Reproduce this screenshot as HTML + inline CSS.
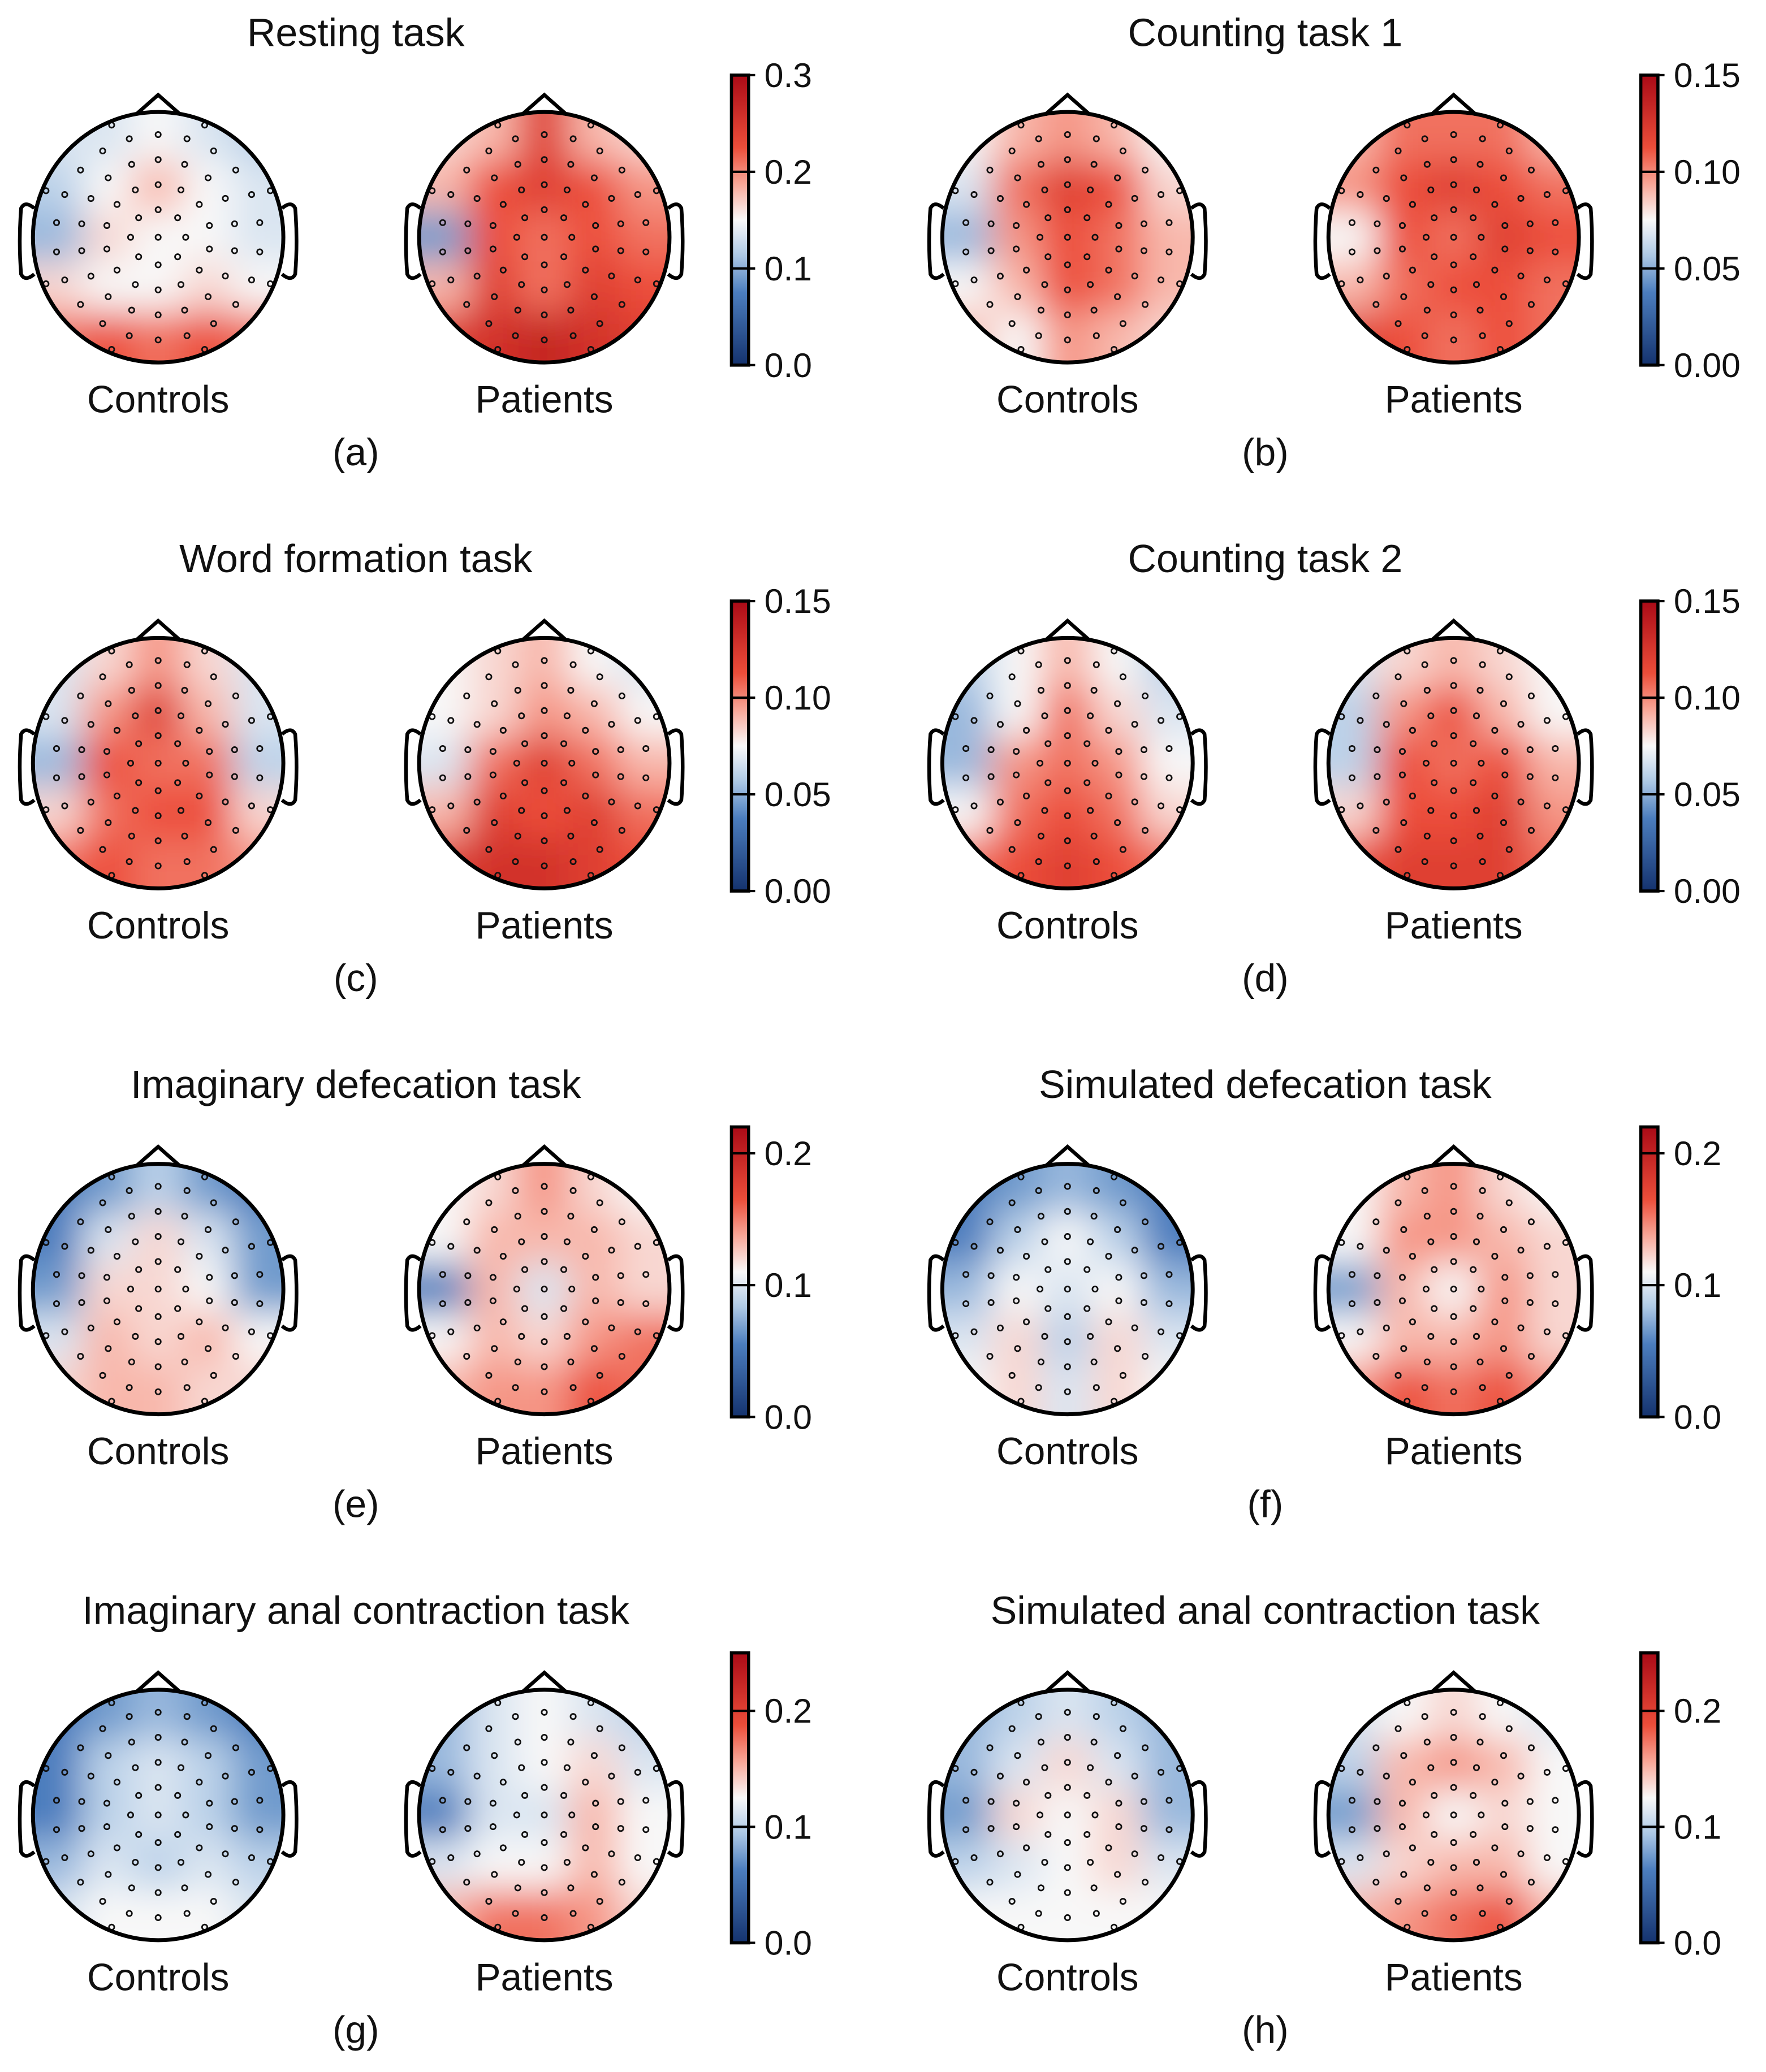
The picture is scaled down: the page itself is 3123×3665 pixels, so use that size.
<!DOCTYPE html>
<html><head><meta charset="utf-8"><style>
html,body{margin:0;padding:0;background:#fff}
svg{display:block}
text{font-family:"Liberation Sans",sans-serif;fill:#111}
</style></head><body>
<svg id="fig" width="3123" height="3665" viewBox="0 0 1340 1572" preserveAspectRatio="none" xmlns="http://www.w3.org/2000/svg">
<defs>
<filter id="blur" x="-20%" y="-20%" width="140%" height="140%"><feGaussianBlur stdDeviation="14"/></filter>
</defs>
</svg>
<script>
const titles=["Resting task","Counting task 1","Word formation task","Counting task 2","Imaginary defecation task","Simulated defecation task","Imaginary anal contraction task","Simulated anal contraction task"];
const letters=["(a)","(b)","(c)","(d)","(e)","(f)","(g)","(h)"];
const cbMax=[0.3,0.15,0.15,0.15,0.22,0.22,0.25,0.25];
const tickA=[0,0.1,0.2,0.3];
const tickB=[0,0.05,0.10,0.15];
const tickE=[0,0.1,0.2];
const tickLabelsA=["0.0","0.1","0.2","0.3"];
const tickLabelsB=["0.00","0.05","0.10","0.15"];
const tickLabelsE=["0.0","0.1","0.2"];
const controlsGrid=[
[[0.45,0.45,0.5,0.45,0.4],[0.4,0.5,0.6,0.5,0.45],[0.35,0.55,0.5,0.5,0.45],[0.55,0.5,0.5,0.55,0.5],[0.7,0.75,0.7,0.75,0.7]],
[[0.5,0.6,0.65,0.6,0.5],[0.45,0.7,0.8,0.75,0.55],[0.35,0.65,0.75,0.7,0.6],[0.5,0.6,0.75,0.7,0.6],[0.6,0.5,0.65,0.6,0.55]],
[[0.45,0.55,0.65,0.55,0.45],[0.45,0.65,0.8,0.6,0.45],[0.35,0.75,0.7,0.7,0.4],[0.55,0.7,0.75,0.75,0.55],[0.7,0.75,0.7,0.7,0.65]],
[[0.4,0.5,0.6,0.5,0.4],[0.35,0.5,0.7,0.55,0.45],[0.35,0.65,0.7,0.65,0.5],[0.5,0.7,0.75,0.7,0.55],[0.7,0.75,0.8,0.75,0.7]],
[[0.25,0.3,0.4,0.3,0.25],[0.25,0.45,0.55,0.45,0.3],[0.3,0.55,0.55,0.5,0.3],[0.45,0.6,0.55,0.6,0.5],[0.55,0.6,0.6,0.55,0.55]],
[[0.25,0.3,0.35,0.3,0.25],[0.25,0.4,0.5,0.4,0.25],[0.35,0.5,0.45,0.5,0.35],[0.45,0.55,0.4,0.55,0.45],[0.5,0.55,0.45,0.55,0.5]],
[[0.25,0.3,0.35,0.3,0.25],[0.25,0.4,0.45,0.4,0.3],[0.25,0.4,0.45,0.4,0.3],[0.35,0.45,0.4,0.45,0.4],[0.45,0.5,0.5,0.5,0.45]],
[[0.35,0.4,0.45,0.4,0.35],[0.35,0.45,0.55,0.45,0.35],[0.3,0.55,0.5,0.55,0.35],[0.4,0.45,0.5,0.55,0.45],[0.5,0.5,0.5,0.5,0.5]]];
const patientsGrid=[
[[0.55,0.6,0.8,0.6,0.55],[0.6,0.75,0.8,0.75,0.65],[0.3,0.75,0.7,0.75,0.7],[0.6,0.8,0.7,0.8,0.75],[0.8,0.85,0.9,0.85,0.8]],
[[0.6,0.7,0.7,0.7,0.6],[0.65,0.75,0.8,0.75,0.7],[0.5,0.75,0.7,0.8,0.75],[0.6,0.7,0.75,0.75,0.7],[0.8,0.75,0.7,0.75,0.7]],
[[0.5,0.55,0.6,0.5,0.45],[0.5,0.55,0.65,0.6,0.5],[0.45,0.7,0.8,0.7,0.6],[0.6,0.8,0.75,0.8,0.7],[0.8,0.85,0.85,0.8,0.75]],
[[0.45,0.55,0.6,0.55,0.5],[0.4,0.65,0.75,0.6,0.5],[0.4,0.75,0.7,0.75,0.6],[0.55,0.75,0.75,0.8,0.65],[0.75,0.8,0.8,0.8,0.7]],
[[0.5,0.55,0.65,0.55,0.5],[0.5,0.6,0.6,0.6,0.55],[0.25,0.6,0.45,0.6,0.55],[0.5,0.6,0.55,0.65,0.7],[0.6,0.65,0.65,0.75,0.7]],
[[0.5,0.6,0.65,0.55,0.5],[0.5,0.65,0.65,0.6,0.55],[0.3,0.6,0.5,0.65,0.55],[0.5,0.6,0.6,0.65,0.55],[0.65,0.75,0.7,0.75,0.65]],
[[0.35,0.45,0.5,0.45,0.4],[0.35,0.45,0.5,0.55,0.45],[0.25,0.45,0.45,0.6,0.5],[0.45,0.5,0.5,0.6,0.5],[0.6,0.7,0.7,0.65,0.55]],
[[0.45,0.5,0.55,0.5,0.45],[0.4,0.6,0.65,0.6,0.5],[0.3,0.6,0.5,0.55,0.5],[0.45,0.55,0.6,0.6,0.5],[0.6,0.65,0.7,0.75,0.6]]];

const NS="http://www.w3.org/2000/svg";
const svg=document.getElementById('fig');
const stops=[[0,[20,50,110]],[0.25,[75,125,190]],[0.38,[175,202,230]],[0.5,[248,248,248]],[0.62,[248,170,155]],[0.75,[236,78,58]],[1,[170,10,22]]];
function cmap(t){t=Math.max(0,Math.min(1,t));for(let i=1;i<stops.length;i++){if(t<=stops[i][0]){const a=stops[i-1],b=stops[i];const f=(t-a[0])/(b[0]-a[0]);return `rgb(${a[1].map((v,k)=>Math.round(v+(b[1][k]-v)*f)).join(',')})`;}}return 'rgb(170,10,22)';}
function el(tag,attrs,parent){const e=document.createElementNS(NS,tag);for(const k in attrs)e.setAttribute(k,attrs[k]);(parent||svg).appendChild(e);return e;}
function txt(x,y,s,size,anchor,parent){const t=el('text',{x:x,y:y,'font-size':size,'text-anchor':anchor||'middle'},parent);t.textContent=s;return t;}

const defs=svg.querySelector('defs');
const lg=el('linearGradient',{id:'cbg',x1:0,y1:1,x2:0,y2:0},defs);
for(let i=0;i<=40;i++)el('stop',{offset:i/40,'stop-color':cmap(i/40)},lg);

let clipId=0;
function head(cx,cy,grid,name){
  const R=95;
  const g=el('g',{});
  
  
  const cp=el('clipPath',{id:'c'+(++clipId)},defs);
  el('circle',{cx:cx,cy:cy,r:R},cp);
  const inner=el('g',{'clip-path':`url(#c${clipId})`},g);
  const blurG=el('g',{filter:'url(#blur)'},inner);
  const n=5,cell=2*R/n;
  for(let r=-1;r<=n;r++)for(let c=-1;c<=n;c++){
    const rr=Math.max(0,Math.min(n-1,r)),cc=Math.max(0,Math.min(n-1,c));
    const rect=el('rect',{x:cx-R+c*cell-0.5,y:cy-R+r*cell-0.5,width:cell+1,height:cell+1,fill:cmap(grid[rr][cc])},blurG);
    
    
  }
  const rings=[[0,1],[0.22,8],[0.42,14],[0.62,18],[0.82,22],[0.97,8]];
  rings.forEach(([f,k])=>{for(let i=0;i<k;i++){const a=2*Math.PI*i/k+(k===8&&f>0.9?Math.PI/8:0);
    const x=cx+f*R*Math.sin(a),y=cy-f*R*Math.cos(a);
    if(f>0.9&&Math.cos(a)>-0.3&&Math.cos(a)<0.3)continue;
    el('circle',{cx:x.toFixed(1),cy:y.toFixed(1),r:2,fill:'none',stroke:'#111','stroke-width':1.2},g);}});
  el('circle',{cx:cx,cy:cy,r:R,fill:'none',stroke:'#000','stroke-width':3},g);
  el('path',{d:`M${cx-17},${cy-R+2} L${cx},${cy-R-13} L${cx+17},${cy-R+2}`,fill:'none',stroke:'#000','stroke-width':2.8},g);
  el('path',{d:`M${cx-R+1},${cy-22} q-7,-6 -10,0 q-2,25 0,50 q3,6 10,0`,fill:'none',stroke:'#000','stroke-width':2.8},g);
  el('path',{d:`M${cx+R-1},${cy-22} q7,-6 10,0 q2,25 0,50 q-3,6 -10,0`,fill:'none',stroke:'#000','stroke-width':2.8},g);
}

for(let p=0;p<8;p++){
  const col=p%2,row=Math.floor(p/2);
  const ox=col*690,oy=row*399;
  const t=txt(270+ox,35+oy,titles[p],30);
  
  
  head(120+ox,180+oy,controlsGrid[p],'controls-topomap');
  head(413+ox,180+oy,patientsGrid[p],'patients-topomap');
  const l1=txt(120+ox,313+oy,'Controls',29);
  
  
  const l2=txt(413+ox,313+oy,'Patients',29);
  
  
  const l3=txt(270+ox,353+oy,letters[p],29);
  
  
  const bx=555+ox,by=57+oy,bh=220,bw=13;
  const cb=el('rect',{x:bx,y:by,width:bw,height:bh,fill:'url(#cbg)',stroke:'#000','stroke-width':2.4});
  
  
  const ticks=p===0?tickA:(p<4?tickB:tickE);
  const labs=p===0?tickLabelsA:(p<4?tickLabelsB:tickLabelsE);
  const ys=v=>by+bh*(1-v/cbMax[p]);
  ticks.forEach((v,i)=>{
    const y=ys(v);
    if(v>0&&v<cbMax[p]-1e-9)el('line',{x1:bx,x2:bx+bw,y1:y,y2:y,stroke:'#000','stroke-width':1.8});
    el('line',{x1:bx+bw,x2:bx+bw+5,y1:y,y2:y,stroke:'#000','stroke-width':1.8});
    const tl=txt(bx+bw+12,y+9,labs[i],26,'start');
    
    
  });
}
</script>
</body></html>
